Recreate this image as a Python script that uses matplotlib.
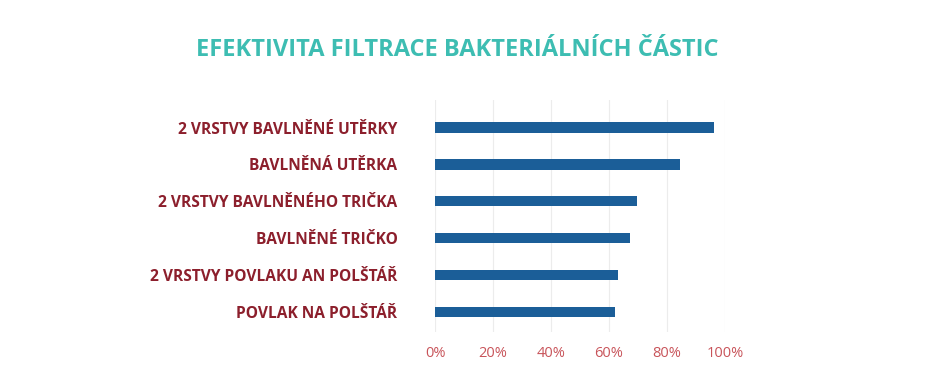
import matplotlib.pyplot as plt

# data (share of bacteria filtered)
labels = ['2 VRSTVY BAVLNĚNÉ UTĚRKY', 'BAVLNĚNÁ UTĚRKA', '2 VRSTVY BAVLNĚNÉHO TRIČKA',
          'BAVLNĚNÉ TRIČKO', '2 VRSTVY POVLAKU AN POLŠTÁŘ', 'POVLAK NA POLŠTÁŘ']
values = [96.3, 84.5, 69.5, 67.2, 63.2, 62.0]
ticks = [0, 20, 40, 60, 80, 100]
tick_labels = ['0%', '20%', '40%', '60%', '80%', '100%']

fig = plt.figure(figsize=(9.36, 3.92), dpi=100)
ax = fig.add_axes([435/936, 1-332/392, 290/936, 232/392])

ypos = list(range(len(labels)))
ax.barh(ypos, values, height=0.28, color='#1b5e98', zorder=3)

ax.set_xlim(0, 100)
ax.set_ylim(5.55, -0.75)
ax.set_xticks(ticks)
ax.set_xticklabels(tick_labels, color='#c8545a', fontsize=10.5, family='Open Sans')
ax.set_yticks(ypos)
ax.set_yticklabels(labels, color='#8c1f2c', fontsize=11.2, fontweight='bold', family='Open Sans')
ax.tick_params(axis='both', length=0)
ax.tick_params(axis='x', pad=10)
ax.tick_params(axis='y', pad=27)
ax.grid(axis='x', color='#ececec', linewidth=0.8, zorder=0)
for s in ax.spines.values():
    s.set_visible(False)

fig.text(457/936, 1-50/392, 'EFEKTIVITA FILTRACE BAKTERIÁLNÍCH ČÁSTIC', ha='center', va='center',
         color='#3dbdb2', fontsize=17, fontweight='bold', family='Open Sans')

fig.savefig('out.png', dpi=100, facecolor='white')
